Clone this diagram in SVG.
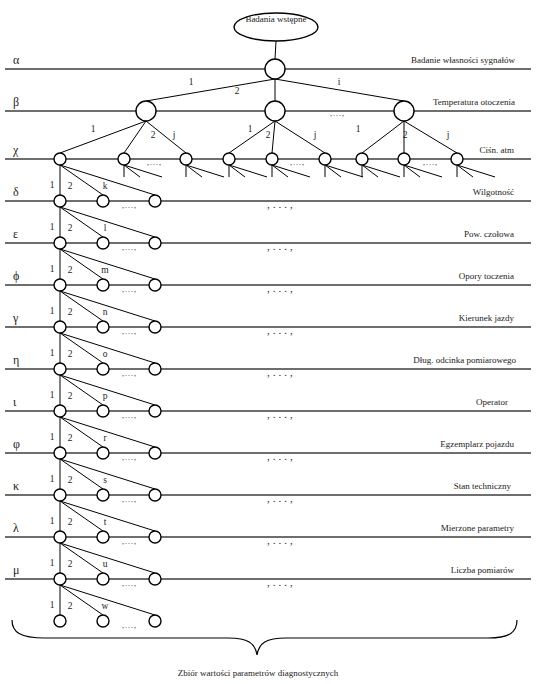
<svg xmlns="http://www.w3.org/2000/svg" width="536" height="684" viewBox="0 0 536 684">
<style>
.lvl{stroke:#6e6e6e;stroke-width:2;fill:none}
.c{stroke:#000;stroke-width:1;fill:none}
.n{fill:#fff;stroke:#000;stroke-width:1.4}
text{font-family:"Liberation Serif","Times New Roman",serif;fill:#222}
.g{font-size:12px}
.lab{font-size:9px;text-anchor:end}
.num{font-size:9.5px;text-anchor:middle}
.dots{font-size:8px;letter-spacing:1px}
.bdots{font-size:11px;letter-spacing:3px}
</style>
<rect width="536" height="684" fill="#fff"/>
<g id="levels">
<line class="lvl" x1="5" y1="69" x2="531" y2="69"/>
<line class="lvl" x1="5" y1="111" x2="531" y2="111"/>
<line class="lvl" x1="5" y1="159" x2="531" y2="159"/>
<line class="lvl" x1="5" y1="201" x2="531" y2="201"/>
<line class="lvl" x1="5" y1="243" x2="531" y2="243"/>
<line class="lvl" x1="5" y1="285" x2="531" y2="285"/>
<line class="lvl" x1="5" y1="327" x2="531" y2="327"/>
<line class="lvl" x1="5" y1="369" x2="531" y2="369"/>
<line class="lvl" x1="5" y1="411" x2="531" y2="411"/>
<line class="lvl" x1="5" y1="453" x2="531" y2="453"/>
<line class="lvl" x1="5" y1="495" x2="531" y2="495"/>
<line class="lvl" x1="5" y1="537" x2="531" y2="537"/>
<line class="lvl" x1="5" y1="579" x2="531" y2="579"/>
</g>
<g id="level-labels">
<text class="g" x="13" y="64">α</text>
<text class="g" x="13" y="106">β</text>
<text class="g" x="13" y="154">χ</text>
<text class="g" x="13" y="196">δ</text>
<text class="g" x="13" y="238">ε</text>
<text class="g" x="13" y="280">ϕ</text>
<text class="g" x="13" y="322">γ</text>
<text class="g" x="13" y="364">η</text>
<text class="g" x="13" y="406">ι</text>
<text class="g" x="13" y="448">φ</text>
<text class="g" x="13" y="490">κ</text>
<text class="g" x="13" y="532">λ</text>
<text class="g" x="13" y="574">μ</text>
<text class="lab" x="515" y="63">Badanie własności sygnałów</text>
<text class="lab" x="515" y="105">Temperatura otoczenia</text>
<text class="lab" x="514" y="153">Ciśn. atm</text>
<text class="lab" x="514" y="195">Wilgotność</text>
<text class="lab" x="514" y="237">Pow. czołowa</text>
<text class="lab" x="514" y="279">Opory toczenia</text>
<text class="lab" x="514" y="321">Kierunek jazdy</text>
<text class="lab" x="516" y="363">Dług. odcinka pomiarowego</text>
<text class="lab" x="508" y="405">Operator</text>
<text class="lab" x="514" y="447">Egzemplarz pojazdu</text>
<text class="lab" x="511" y="489">Stan techniczny</text>
<text class="lab" x="514" y="531">Mierzone parametry</text>
<text class="lab" x="514" y="573">Liczba pomiarów</text>
</g>
<g id="connectors">
<path class="c" d="M276,41 L275,59"/>
<path class="c" d="M275,79 L146,101 M275,79 L275,101 M275,79 L404,101"/>
<path class="c" d="M146,121 L60,153 M146,121 L124,153 M146,121 L186,153"/>
<path class="c" d="M275,121 L229,153 M275,121 L272,153 M275,121 L325,153"/>
<path class="c" d="M404,121 L362,153 M404,121 L404,153 M404,121 L457,153"/>
<path class="c" d="M124,165 V177 M124,165 L140,177 M124,165 L162,177 M186,165 V177 M186,165 L202,177 M186,165 L224,177 M229,165 V177 M229,165 L245,177 M229,165 L267,177 M272,165 V177 M272,165 L288,177 M272,165 L310,177 M325,165 V177 M325,165 L341,177 M325,165 L363,177 M362,165 V177 M362,165 L378,177 M362,165 L400,177 M404,165 V177 M404,165 L420,177 M404,165 L442,177 M457,165 V177 M457,165 L473,177 M457,165 L495,177"/>
<path class="c" d="M60,165 V195 M60,165 L103,195 M60,165 L155,195"/>
<path class="c" d="M60,207 V237 M60,207 L103,237 M60,207 L155,237"/>
<path class="c" d="M60,249 V279 M60,249 L103,279 M60,249 L155,279"/>
<path class="c" d="M60,291 V321 M60,291 L103,321 M60,291 L155,321"/>
<path class="c" d="M60,333 V363 M60,333 L103,363 M60,333 L155,363"/>
<path class="c" d="M60,375 V405 M60,375 L103,405 M60,375 L155,405"/>
<path class="c" d="M60,417 V447 M60,417 L103,447 M60,417 L155,447"/>
<path class="c" d="M60,459 V489 M60,459 L103,489 M60,459 L155,489"/>
<path class="c" d="M60,501 V531 M60,501 L103,531 M60,501 L155,531"/>
<path class="c" d="M60,543 V573 M60,543 L103,573 M60,543 L155,573"/>
<path class="c" d="M60,585 V615 M60,585 L103,615 M60,585 L155,615"/>
</g>
<g id="edge-labels">
<text class="num" x="191" y="85">1</text>
<text class="num" x="237" y="94">2</text>
<text class="num" x="339" y="85">i</text>
<text class="dots" x="330" y="116">,...,</text>
<text class="num" x="93" y="132">1</text>
<text class="num" x="153" y="138">2</text>
<text class="num" x="174" y="138">j</text>
<text class="num" x="250" y="132">1</text>
<text class="num" x="268" y="138">2</text>
<text class="num" x="315" y="138">j</text>
<text class="num" x="358" y="132">1</text>
<text class="num" x="405" y="138">2</text>
<text class="num" x="448" y="138">j</text>
<text class="dots" x="147" y="165">,...,</text>
<text class="dots" x="290" y="165">,...,</text>
<text class="dots" x="423" y="165">,...,</text>
</g>
<g id="row-labels">
<text class="num" x="52" y="188">1</text><text class="num" x="70" y="189">2</text><text class="num" x="105" y="189">k</text><text class="dots" x="122" y="208">,...,</text><text class="bdots" x="267" y="208">,...,</text>
<text class="num" x="52" y="230">1</text><text class="num" x="70" y="231">2</text><text class="num" x="105" y="231">l</text><text class="dots" x="122" y="250">,...,</text><text class="bdots" x="267" y="250">,...,</text>
<text class="num" x="52" y="272">1</text><text class="num" x="70" y="273">2</text><text class="num" x="105" y="273">m</text><text class="dots" x="122" y="292">,...,</text><text class="bdots" x="267" y="292">,...,</text>
<text class="num" x="52" y="314">1</text><text class="num" x="70" y="315">2</text><text class="num" x="105" y="315">n</text><text class="dots" x="122" y="334">,...,</text><text class="bdots" x="267" y="334">,...,</text>
<text class="num" x="52" y="356">1</text><text class="num" x="70" y="357">2</text><text class="num" x="105" y="357">o</text><text class="dots" x="122" y="376">,...,</text><text class="bdots" x="267" y="376">,...,</text>
<text class="num" x="52" y="398">1</text><text class="num" x="70" y="399">2</text><text class="num" x="105" y="399">p</text><text class="dots" x="122" y="418">,...,</text><text class="bdots" x="267" y="418">,...,</text>
<text class="num" x="52" y="440">1</text><text class="num" x="70" y="441">2</text><text class="num" x="105" y="441">r</text><text class="dots" x="122" y="460">,...,</text><text class="bdots" x="267" y="460">,...,</text>
<text class="num" x="52" y="482">1</text><text class="num" x="70" y="483">2</text><text class="num" x="105" y="483">s</text><text class="dots" x="122" y="502">,...,</text><text class="bdots" x="267" y="502">,...,</text>
<text class="num" x="52" y="524">1</text><text class="num" x="70" y="525">2</text><text class="num" x="105" y="525">t</text><text class="dots" x="122" y="544">,...,</text><text class="bdots" x="267" y="544">,...,</text>
<text class="num" x="52" y="566">1</text><text class="num" x="70" y="567">2</text><text class="num" x="105" y="567">u</text><text class="dots" x="122" y="586">,...,</text><text class="bdots" x="267" y="586">,...,</text>
<text class="num" x="52" y="608">1</text><text class="num" x="70" y="609">2</text><text class="num" x="105" y="609">w</text><text class="dots" x="122" y="628">,...,</text>
</g>
<g id="root"><ellipse class="n" cx="276" cy="27" rx="42" ry="14"/><text x="276" y="22" font-size="9" text-anchor="middle">Badania wstępne</text></g>
<g id="alpha"><circle class="n" cx="275" cy="69" r="10"/></g>
<g id="beta-1"><circle class="n" cx="146" cy="111" r="10"/></g>
<g id="beta-2"><circle class="n" cx="275" cy="111" r="10"/></g>
<g id="beta-i"><circle class="n" cx="404" cy="111" r="10"/></g>
<g id="chi-1-1"><circle class="n" cx="60" cy="159" r="6"/></g>
<g id="chi-1-2"><circle class="n" cx="124" cy="159" r="6"/></g>
<g id="chi-1-j"><circle class="n" cx="186" cy="159" r="6"/></g>
<g id="chi-2-1"><circle class="n" cx="229" cy="159" r="6"/></g>
<g id="chi-2-2"><circle class="n" cx="272" cy="159" r="6"/></g>
<g id="chi-2-j"><circle class="n" cx="325" cy="159" r="6"/></g>
<g id="chi-i-1"><circle class="n" cx="362" cy="159" r="6"/></g>
<g id="chi-i-2"><circle class="n" cx="404" cy="159" r="6"/></g>
<g id="chi-i-j"><circle class="n" cx="457" cy="159" r="6"/></g>
<g id="delta"><circle class="n" cx="60" cy="201" r="6"/><circle class="n" cx="103" cy="201" r="6"/><circle class="n" cx="155" cy="201" r="6"/></g>
<g id="epsilon"><circle class="n" cx="60" cy="243" r="6"/><circle class="n" cx="103" cy="243" r="6"/><circle class="n" cx="155" cy="243" r="6"/></g>
<g id="phi"><circle class="n" cx="60" cy="285" r="6"/><circle class="n" cx="103" cy="285" r="6"/><circle class="n" cx="155" cy="285" r="6"/></g>
<g id="gamma"><circle class="n" cx="60" cy="327" r="6"/><circle class="n" cx="103" cy="327" r="6"/><circle class="n" cx="155" cy="327" r="6"/></g>
<g id="eta"><circle class="n" cx="60" cy="369" r="6"/><circle class="n" cx="103" cy="369" r="6"/><circle class="n" cx="155" cy="369" r="6"/></g>
<g id="iota"><circle class="n" cx="60" cy="411" r="6"/><circle class="n" cx="103" cy="411" r="6"/><circle class="n" cx="155" cy="411" r="6"/></g>
<g id="varphi"><circle class="n" cx="60" cy="453" r="6"/><circle class="n" cx="103" cy="453" r="6"/><circle class="n" cx="155" cy="453" r="6"/></g>
<g id="kappa"><circle class="n" cx="60" cy="495" r="6"/><circle class="n" cx="103" cy="495" r="6"/><circle class="n" cx="155" cy="495" r="6"/></g>
<g id="lambda"><circle class="n" cx="60" cy="537" r="6"/><circle class="n" cx="103" cy="537" r="6"/><circle class="n" cx="155" cy="537" r="6"/></g>
<g id="mu"><circle class="n" cx="60" cy="579" r="6"/><circle class="n" cx="103" cy="579" r="6"/><circle class="n" cx="155" cy="579" r="6"/></g>
<g id="values"><circle class="n" cx="60" cy="621" r="6"/><circle class="n" cx="103" cy="621" r="6"/><circle class="n" cx="155" cy="621" r="6"/></g>
<g id="brace">
<path d="M12,620 C12,632 20,638 45,638 L228,638 C248,638 255,643 257,655 C259,643 266,638 286,638 L488,638 C510,638 517,632 517,620" fill="none" stroke="#000" stroke-width="1.2"/>
<text x="258" y="676" font-size="9" text-anchor="middle">Zbiór wartości parametrów diagnostycznych</text>
</g>
</svg>
